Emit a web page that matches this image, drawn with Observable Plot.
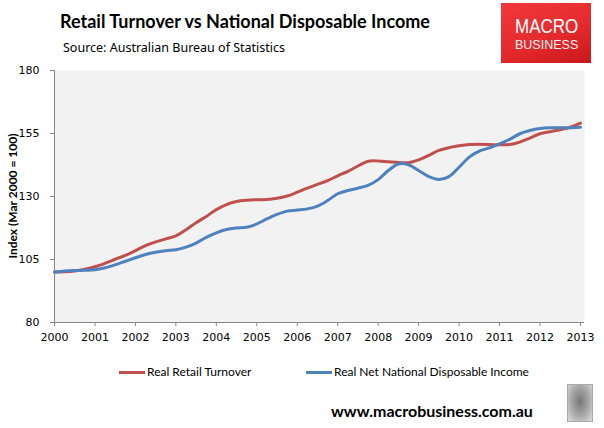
<!DOCTYPE html>
<html>
<head>
<meta charset="utf-8">
<script src="https://cdn.jsdelivr.net/npm/d3@7"></script>
<script src="https://cdn.jsdelivr.net/npm/@observablehq/plot@0.6"></script>
<style>
  html, body { margin: 0; padding: 0; background: #fff; }
  #wrap { position: relative; width: 604px; height: 428px; overflow: hidden; background: #fff; }
  #chart { position: absolute; left: 0; top: 0; }
  .abs { position: absolute; white-space: nowrap; }
</style>
</head>
<body>
<div id="wrap">
  <div id="chart"></div>
  <div class="abs" id="title" style="left:60px;top:10px;font:bold 18px Lato;color:#000;">Retail Turnover vs National Disposable Income</div>
  <div class="abs" id="subtitle" style="left:63px;top:39px;font:12.5px 'Noto Sans';color:#000;">Source: Australian Bureau of Statistics</div>
  <div class="abs" id="logo" style="left:501px;top:3px;width:90px;height:60px;background:linear-gradient(160deg,#f2383a,#e52a2d 55%,#c9171b);">
    <div class="abs" style="left:14px;top:11px;font:21px 'Liberation Sans';color:#fff;transform:scaleX(0.81);transform-origin:0 0;">MACRO</div>
    <div class="abs" style="left:14px;top:35px;font:12.5px 'Liberation Sans';color:#f4f4f4;">BUSINESS</div>
  </div>
  <div class="abs" id="ylabel" style="left:12px;top:196px;font:bold 12px Lato;color:#000;transform:translate(-50%,-50%) rotate(-90deg);">Index (Mar 2000 = 100)</div>
  <div id="legend"></div>
  <div class="abs" id="footer" style="left:331px;top:401px;font:bold 16px Lato;color:#000;">www.macrobusiness.com.au</div>
  <div class="abs" id="wolf" style="left:567px;top:384px;width:24px;height:36px;border:1px solid #aaa;background:radial-gradient(ellipse at 50% 45%,#777,#aaa 55%,#ddd);"></div>
</div>
<script>
// ---- Data (quarterly, Mar 2000 = 100) ----
const quarters = [
  2000, 2000.25, 2000.5, 2000.75,
  2001, 2001.25, 2001.5, 2001.75,
  2002, 2002.25, 2002.5, 2002.75,
  2003, 2003.25, 2003.5, 2003.75,
  2004, 2004.25, 2004.5, 2004.75,
  2005, 2005.25, 2005.5, 2005.75,
  2006, 2006.25, 2006.5, 2006.75,
  2007, 2007.25, 2007.5, 2007.75,
  2008, 2008.25, 2008.5, 2008.75,
  2009, 2009.25, 2009.5, 2009.75,
  2010, 2010.25, 2010.5, 2010.75,
  2011, 2011.25, 2011.5, 2011.75,
  2012, 2012.25, 2012.5, 2012.75,
  2013
];
const retailTurnover = [
  100.0, 100.1, 100.4, 101.1,
  102.1, 103.5, 105.1, 106.6,
  108.5, 110.5, 112.0, 113.2,
  114.4, 116.8, 119.6, 122.1,
  124.8, 126.8, 128.0, 128.5,
  128.7, 128.8, 129.3, 130.2,
  131.7, 133.3, 134.8, 136.3,
  138.2, 140.0, 142.1, 144.0,
  144.1, 143.8, 143.5, 143.4,
  144.5, 146.3, 148.3, 149.4,
  150.1, 150.6, 150.7, 150.6,
  150.5, 150.6, 151.6, 153.2,
  154.9, 155.7, 156.5, 157.5,
  159.1
];
const disposableIncome = [
  100.0, 100.4, 100.6, 100.7,
  100.9, 101.7, 102.9, 104.3,
  105.7, 107.0, 107.9, 108.5,
  108.9, 109.9, 111.5, 113.8,
  115.6, 116.9, 117.5, 117.8,
  119.1, 121.1, 122.9, 124.2,
  124.6, 125.1, 126.2, 128.4,
  131.1, 132.4, 133.3, 134.4,
  136.7, 140.3, 142.9, 142.6,
  140.3, 137.9, 136.7, 137.9,
  141.6, 145.6, 148.0, 149.3,
  150.9, 152.7, 154.9, 156.2,
  157.0, 157.3, 157.3, 157.3,
  157.5
];
const seriesNames = ["Real Retail Turnover", "Real Net National Disposable Income"];
const seriesColors = ["#c0504d", "#4f81bd"];
const xTicks = [2000, 2001, 2002, 2003, 2004, 2005, 2006, 2007, 2008, 2009, 2010, 2011, 2012, 2013];
const yTicks = [80, 105, 130, 155, 180];

const rows = [];
quarters.forEach((q, i) => {
  rows.push({t: q, v: retailTurnover[i], s: seriesNames[0]});
  rows.push({t: q, v: disposableIncome[i], s: seriesNames[1]});
});

const axisGray = "#868686";
const chart = Plot.plot({
  width: 604,
  height: 350,
  marginTop: 70,
  marginLeft: 54,
  marginRight: 20,
  marginBottom: 28,
  style: {fontFamily: "'DejaVu Sans'", fontSize: "11px", background: "transparent", color: "#000"},
  x: {domain: [2000, 2013.1]},
  y: {domain: [80, 180]},
  color: {domain: seriesNames, range: seriesColors},
  marks: [
    Plot.frame({fill: "#f2f2f2", stroke: null}),
    Plot.axisX({ticks: xTicks, tickFormat: d => String(d), tickSize: 4, tickPadding: 7, stroke: axisGray, label: null}),
    Plot.axisY({ticks: yTicks, tickSize: 4, tickPadding: 11, stroke: axisGray, label: null}),
    Plot.ruleY([80], {stroke: axisGray}),
    Plot.ruleX([2000], {stroke: axisGray}),
    Plot.line(rows, {x: "t", y: "v", z: "s", stroke: "s", strokeWidth: 3, curve: "catmull-rom"})
  ]
});
document.getElementById("chart").appendChild(chart);

// Legend
const legend = document.getElementById("legend");
const legendPos = [{line: 119, text: 147}, {line: 306, text: 334}];
seriesNames.forEach((name, i) => {
  const sw = document.createElement("div");
  sw.className = "abs";
  sw.style.cssText = `left:${legendPos[i].line}px;top:371px;width:26px;height:3px;background:${seriesColors[i]};`;
  legend.appendChild(sw);
  const tx = document.createElement("div");
  tx.className = "abs";
  tx.style.cssText = `left:${legendPos[i].text}px;top:364px;font:12px Lato;color:#000;`;
  tx.textContent = name;
  legend.appendChild(tx);
});
</script>
</body>
</html>
